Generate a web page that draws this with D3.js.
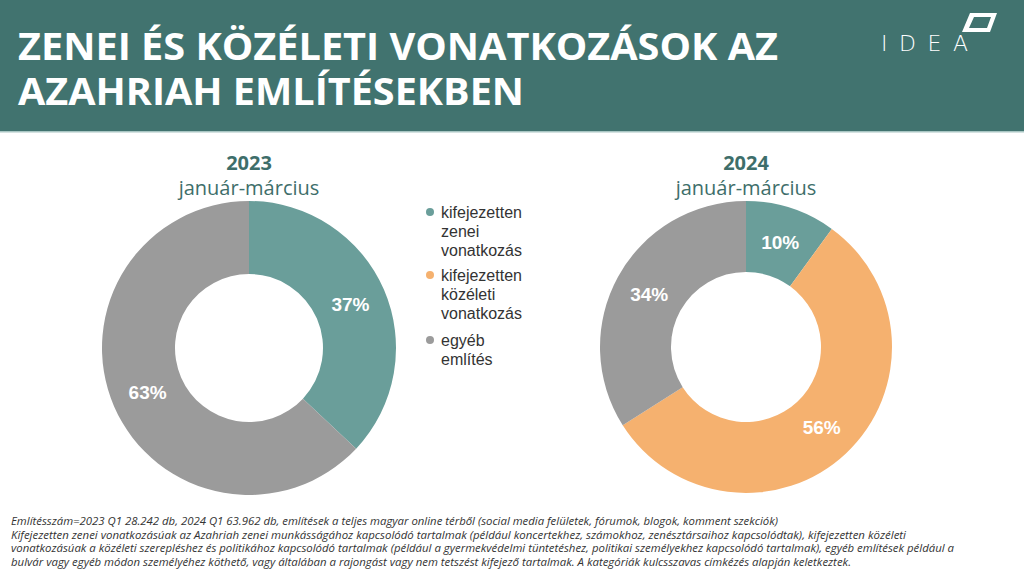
<!DOCTYPE html>
<html>
<head>
<meta charset="utf-8">
<script src="https://cdn.jsdelivr.net/npm/d3@7"></script>
<style>
  html, body { margin: 0; padding: 0; background: #fff; }
  svg { display: block; }
</style>
</head>
<body>
<svg id="chart" width="1024" height="576"></svg>
<script>
const categories = ["kifejezetten zenei vonatkozás", "kifejezetten közéleti vonatkozás", "egyéb említés"];
const legendLines = [["kifejezetten", "zenei", "vonatkozás"], ["kifejezetten", "közéleti", "vonatkozás"], ["egyéb", "említés"]];
const colors = ["#6A9E9A", "#F5B16F", "#9B9B9B"];
const values2023 = [37, 0, 63];
const values2024 = [10, 56, 34];
const years = ["2023", "2024"];
const period = "január-március";
const titleLines = ["ZENEI ÉS KÖZÉLETI VONATKOZÁSOK AZ", "AZAHRIAH EMLÍTÉSEKBEN"];
const footnoteLines = [
  "Említésszám=2023 Q1 28.242 db, 2024 Q1 63.962 db, említések a teljes magyar online térből (social media felületek, fórumok, blogok, komment szekciók)",
  "Kifejezetten zenei vonatkozásúak az  Azahriah zenei munkásságához kapcsolódó tartalmak (például koncertekhez, számokhoz, zenésztársaihoz kapcsolódtak), kifejezetten közéleti",
  "vonatkozásúak a közéleti szerepléshez és politikához kapcsolódó tartalmak (például a  gyermekvédelmi tüntetéshez, politikai személyekhez kapcsolódó tartalmak), egyéb említések például a",
  "bulvár vagy egyéb módon személyéhez köthető, vagy általában a rajongást vagy nem tetszést kifejező tartalmak. A kategóriák kulcsszavas címkézés alapján keletkeztek."
];

const svg = d3.select("#chart");

// Header band
svg.append("rect").attr("x", 0).attr("y", 0).attr("width", 1024).attr("height", 131).attr("fill", "#41736F");
svg.append("rect").attr("x", 0).attr("y", 131).attr("width", 1024).attr("height", 1.5).attr("fill", "#A9C6C3");

const titleWidths = [760, 506];
const titleBase = [60, 105];
titleLines.forEach((t, i) => {
  svg.append("text")
    .attr("x", 18).attr("y", titleBase[i])
    .attr("font-family", "'Open Sans', sans-serif")
    .attr("font-weight", 700)
    .attr("font-size", 37)
    .attr("fill", "#fff")
    .attr("textLength", titleWidths[i])
    .attr("lengthAdjust", "spacingAndGlyphs")
    .text(t);
});

// IDEA logo
svg.append("text")
  .attr("x", 881).attr("y", 51)
  .attr("font-family", "'DejaVu Sans', sans-serif")
  .attr("font-weight", 300)
  .attr("font-size", 22)
  .attr("fill", "#fff")
  .attr("textLength", 87)
  .attr("lengthAdjust", "spacing")
  .text("IDEA");
svg.append("path")
  .attr("d", "M970,13 L997,13 L990,32 L962,32 Z M974,17 L991,17 L987,28 L969,28 Z")
  .attr("fill", "#fff")
  .attr("fill-rule", "evenodd");

// Donuts
const pie = d3.pie().sort(null).value(d => d.value);
const donuts = [
  { cx: 249, cy: 348, ro: 147, ri: 74, values: values2023, year: years[0] },
  { cx: 746, cy: 347, ro: 146, ri: 75, values: values2024, year: years[1] }
];

donuts.forEach(dn => {
  const data = categories.map((c, i) => ({ cat: c, value: dn.values[i], color: colors[i] }));
  const arcs = pie(data).filter(a => a.data.value > 0);
  const arc = d3.arc().innerRadius(dn.ri).outerRadius(dn.ro);
  const g = svg.append("g").attr("transform", `translate(${dn.cx},${dn.cy})`);
  g.selectAll("path").data(arcs).enter().append("path")
    .attr("d", arc)
    .attr("fill", d => d.data.color);
  g.selectAll("text.lbl").data(arcs).enter().append("text")
    .attr("class", "lbl")
    .attr("transform", d => `translate(${arc.centroid(d)})`)
    .attr("text-anchor", "middle")
    .attr("dy", "0.36em")
    .attr("font-family", "'Liberation Sans', Arial, sans-serif")
    .attr("font-weight", 700)
    .attr("font-size", 19)
    .attr("fill", "#fff")
    .text(d => d.data.value + "%");

  svg.append("text")
    .attr("x", dn.cx).attr("y", 170)
    .attr("text-anchor", "middle")
    .attr("font-family", "'Open Sans', sans-serif")
    .attr("font-weight", 700)
    .attr("font-size", 20)
    .attr("fill", "#3E6E6A")
    .text(dn.year);
  svg.append("text")
    .attr("x", dn.cx).attr("y", 195)
    .attr("text-anchor", "middle")
    .attr("font-family", "'Open Sans', sans-serif")
    .attr("font-size", 20)
    .attr("fill", "#3E6E6A")
    .text(period);
});

// Legend
const legendStart = [212, 275, 340];
const legendStep = 19;
const lg = svg.append("g");
legendLines.forEach((lines, i) => {
  lg.append("circle")
    .attr("cx", 430).attr("cy", legendStart[i])
    .attr("r", 4)
    .attr("fill", colors[i]);
  lines.forEach((ln, j) => {
    lg.append("text")
      .attr("x", 441).attr("y", legendStart[i] + j * legendStep)
      .attr("dy", "0.35em")
      .attr("font-family", "'Liberation Sans', Arial, sans-serif")
      .attr("font-size", 16)
      .attr("fill", "#333")
      .text(ln);
  });
});

// Footnote
const footWidths = [767, 895, 943, 840];
footnoteLines.forEach((t, i) => {
  svg.append("text")
    .attr("x", 11).attr("y", 525 + i * 13.7)
    .attr("font-family", "'Open Sans', sans-serif")
    .attr("font-style", "italic")
    .attr("font-size", 11)
    .attr("fill", "#333")
    .attr("textLength", footWidths[i])
    .attr("lengthAdjust", "spacingAndGlyphs")
    .text(t);
});
</script>
</body>
</html>
